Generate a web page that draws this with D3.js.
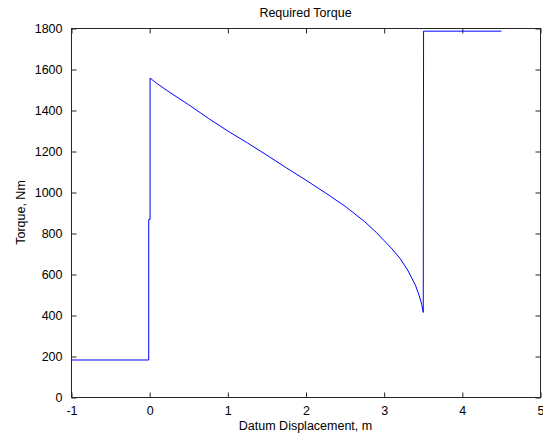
<!DOCTYPE html>
<html>
<head>
<meta charset="utf-8">
<script src="https://cdn.jsdelivr.net/npm/d3@7"></script>
<style>
  body { margin: 0; background: #fff; }
  text { font-family: "Liberation Sans", Arial, sans-serif; fill: #000; }
</style>
</head>
<body>
<div id="chart"></div>
<script>
// Data
const xTicks = [-1, 0, 1, 2, 3, 4, 5];
const yTicks = [0, 200, 400, 600, 800, 1000, 1200, 1400, 1600, 1800];
const displacement = [-1, -0.012, -0.012, 0.005, 0.005, 0.1, 0.25, 0.5, 0.75, 1.0, 1.25, 1.5, 1.75, 2.0, 2.25, 2.5, 2.75, 2.9, 3.0, 3.1, 3.2, 3.3, 3.4, 3.45, 3.48, 3.5, 3.504, 4.5];
const torque = [183, 183, 868, 868, 1558, 1530, 1490, 1428, 1362, 1300, 1242, 1182, 1120, 1060, 998, 933, 858, 805, 765, 725, 680, 622, 548, 495, 455, 415, 1787, 1787];

const w = 543;
const h = 440;
const mLeft = 71, mRight = 540, mTop = 28, mBottom = 397;

const xScale = d3.scaleLinear().domain([-1, 5]).range([mLeft, mRight]);
const yScale = d3.scaleLinear().domain([0, 1800]).range([mBottom, mTop]);

const svg = d3.select("#chart")
  .append("svg")
  .attr("width", w)
  .attr("height", h);

const tickLen = 5;
const axisColor = "#262626";
const plain = d => String(d);

// box
svg.append("rect")
  .attr("x", mLeft + 0.5)
  .attr("y", mTop + 0.5)
  .attr("width", mRight - mLeft)
  .attr("height", mBottom - mTop)
  .attr("fill", "none")
  .attr("stroke", axisColor)
  .attr("stroke-width", 1);

// axes with inward ticks
const xAxis = d3.axisBottom(xScale).tickValues(xTicks).tickFormat(plain).tickSizeInner(-tickLen).tickSizeOuter(0).tickPadding(9);
const yAxis = d3.axisLeft(yScale).tickValues(yTicks).tickFormat(plain).tickSizeInner(-tickLen).tickSizeOuter(0).tickPadding(9);

svg.append("g")
  .attr("transform", `translate(0.5, ${mBottom + 0.5})`)
  .call(xAxis);
svg.append("g")
  .attr("transform", `translate(${mLeft + 0.5}, 0.5)`)
  .call(yAxis);

// top and right ticks
svg.append("g")
  .attr("transform", `translate(0.5, ${mTop + 0.5})`)
  .call(d3.axisTop(xScale).tickValues(xTicks).tickSizeInner(-tickLen).tickSizeOuter(0).tickFormat(""));
svg.append("g")
  .attr("transform", `translate(${mRight + 0.5}, 0.5)`)
  .call(d3.axisRight(yScale).tickValues(yTicks).tickSizeInner(-tickLen).tickSizeOuter(0).tickFormat(""));

svg.selectAll(".domain").remove();
svg.selectAll(".tick line").attr("stroke", axisColor);
svg.selectAll(".tick text")
  .style("font-size", "12.5px")
  .style("font-family", "'Liberation Sans', Arial, sans-serif")
  .attr("fill", "#000");

// line
const points = displacement.map((d, i) => [d, torque[i]]);
svg.append("path")
  .datum(points)
  .attr("fill", "none")
  .attr("stroke", "#0000ff")
  .attr("stroke-width", 1)
  .attr("d", d3.line().x(d => xScale(d[0]) + 0.5).y(d => yScale(d[1]) + 0.5));

// labels
svg.append("text")
  .attr("x", (mLeft + mRight) / 2)
  .attr("y", 17)
  .attr("text-anchor", "middle")
  .style("font-size", "12.5px")
  .text("Required Torque");

svg.append("text")
  .attr("x", (mLeft + mRight) / 2)
  .attr("y", 430)
  .attr("text-anchor", "middle")
  .style("font-size", "12.5px")
  .text("Datum Displacement, m");

svg.append("text")
  .attr("transform", `translate(25, ${(mTop + mBottom) / 2}) rotate(-90)`)
  .attr("text-anchor", "middle")
  .style("font-size", "12.5px")
  .text("Torque, Nm");
</script>
</body>
</html>
